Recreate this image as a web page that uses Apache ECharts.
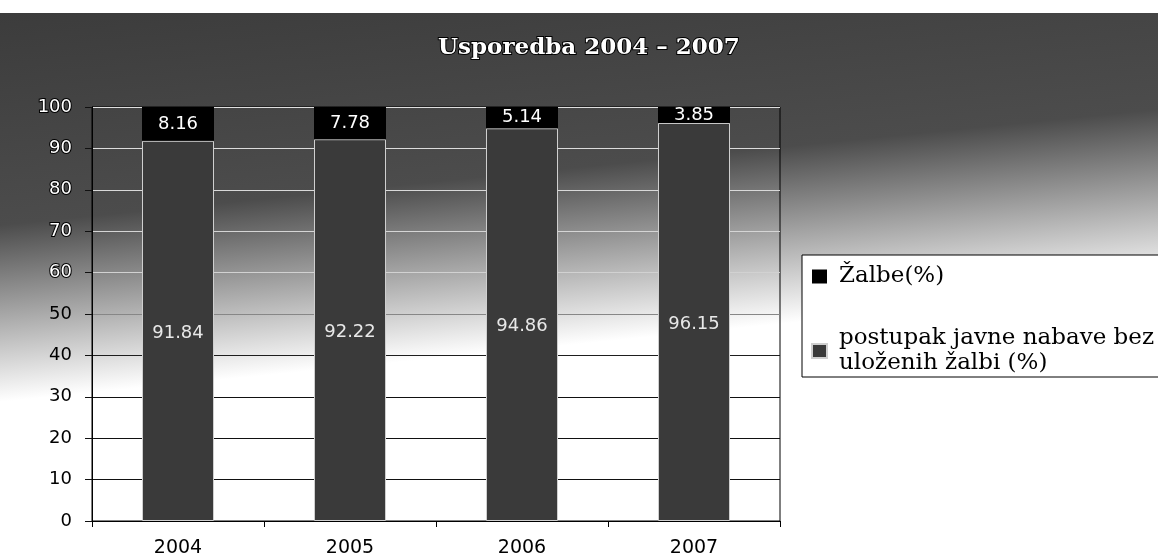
<!DOCTYPE html>
<html><head><meta charset="utf-8">
<script src="https://cdn.jsdelivr.net/npm/echarts@6/dist/echarts.min.js"></script>
<style>html,body{margin:0;padding:0;background:#fff}#c{width:1158px;height:558px}</style>
</head><body><div id="c"></div>
<script>
const years = ['2004', '2005', '2006', '2007'];
const bezZalbi = [91.84, 92.22, 94.86, 96.15];
const zalbe = [8.16, 7.78, 5.14, 3.85];
const yTicks = [0, 10, 20, 30, 40, 50, 60, 70, 80, 90, 100];
const titleText = 'Usporedba 2004 – 2007';
const nameZalbe = 'Žalbe(%)';
const nameBez = 'postupak javne nabave bez\nuloženih žalbi (%)';

const chart = echarts.init(document.getElementById('c'));
const bgGrad = new echarts.graphic.LinearGradient(0, 13, 50, 513, [
  {offset: 0, color: '#3c3c3c'},
  {offset: 0.42, color: '#4c4c4c'},
  {offset: 0.6, color: '#a8a8a8'},
  {offset: 0.77, color: '#ffffff'},
  {offset: 1, color: '#ffffff'}
], true);
const gridGrad = new echarts.graphic.LinearGradient(0, 100, 0, 521, [
  {offset: 0, color: '#e0e0e0'},
  {offset: 0.45, color: '#d0d0d0'},
  {offset: 0.55, color: '#555'},
  {offset: 0.62, color: '#111'},
  {offset: 1, color: '#111'}
], true);

chart.setOption({
  animation: false,
  graphic: [{
    type: 'rect', z: -10, silent: true,
    shape: {x: 0, y: 13, width: 1158, height: 545},
    style: {fill: bgGrad}
  }],
  title: {
    text: titleText, left: 433, top: 32,
    textStyle: {
      fontFamily: 'DejaVu Serif', fontWeight: 'bold', fontSize: 23,
      color: '#fff', textBorderColor: '#000', textBorderWidth: 2
    }
  },
  legend: {
    orient: 'vertical', left: 802, top: 255,
    backgroundColor: '#fff', borderColor: '#000', borderWidth: 1,
    padding: [9, 40, 1, 9], itemGap: 37,
    itemWidth: 15, itemHeight: 14, icon: 'rect',
    data: [nameZalbe, nameBez],
    textStyle: {fontFamily: 'DejaVu Serif', fontSize: 23, color: '#000', lineHeight: 25, padding: [0, 0, 0, 7]}
  },
  grid: {left: 92, right: 378, top: 107, bottom: 36, show: true, borderColor: '#000', borderWidth: 1, backgroundColor: 'transparent'},
  xAxis: {
    type: 'category', data: years,
    axisLine: {lineStyle: {color: '#000'}},
    axisTick: {show: true, length: 6, lineStyle: {color: '#000'}},
    axisLabel: {margin: 18, fontFamily: 'DejaVu Sans', fontSize: 19, color: '#000'}
  },
  yAxis: {
    type: 'value', min: 0, max: 100, interval: 10,
    axisLine: {show: true, lineStyle: {color: '#000'}},
    axisTick: {show: true, length: 7, lineStyle: {color: '#111'}},
    splitLine: {lineStyle: {color: gridGrad, width: 1}},
    axisLabel: {
      margin: 20,
      formatter: v => (yTicks.indexOf(v) >= 0 ? (v >= 60 ? '{w|' + v + '}' : '{b|' + v + '}') : ''),
      rich: {
        w: {fontFamily: 'DejaVu Sans', fontSize: 18, color: '#fff', textBorderColor: '#000', textBorderWidth: 2},
        b: {fontFamily: 'DejaVu Sans', fontSize: 18, color: '#000'}
      }
    }
  },
  series: [
    {
      name: nameBez, type: 'bar', stack: 's', data: bezZalbi, barWidth: 72,
      itemStyle: {color: '#3a3a3a', borderColor: '#cfcfcf', borderWidth: 1},
      label: {show: true, position: 'inside', offset: [0, 2], color: '#e8e8e8', fontFamily: 'DejaVu Sans', fontSize: 18, formatter: p => p.value.toFixed(2)}
    },
    {
      name: nameZalbe, type: 'bar', stack: 's', data: zalbe, barWidth: 72,
      itemStyle: {color: '#000'},
      label: {show: true, position: 'inside', color: '#fff', fontFamily: 'DejaVu Sans', fontSize: 18, formatter: p => p.value.toFixed(2)}
    }
  ]
});
</script></body></html>
